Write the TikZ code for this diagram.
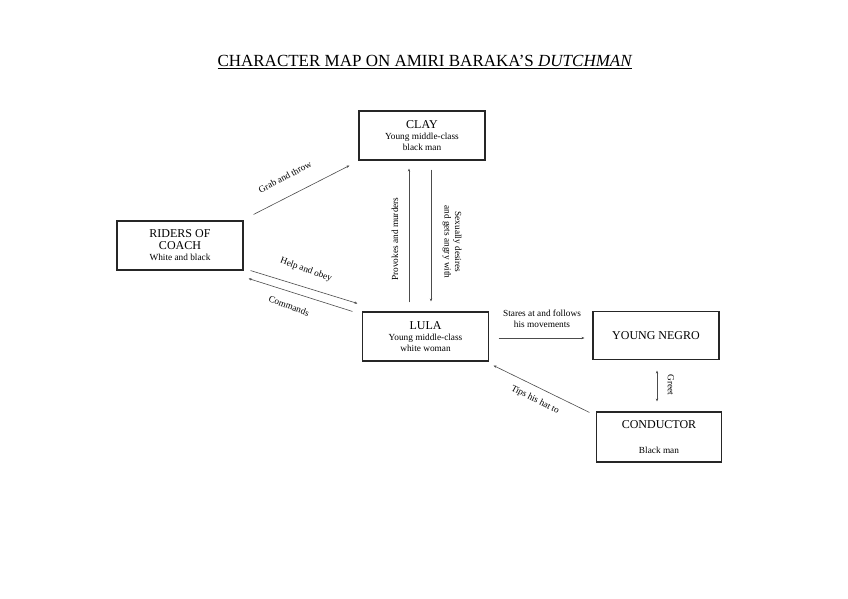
\documentclass[tikz,border=0pt]{standalone}
\usepackage{fontspec}
\setmainfont{Liberation Serif}
\usetikzlibrary{arrows.meta}
\newcommand\subtxt[1]{{\fontsize{9.3}{10}\selectfont #1}}
\begin{document}
\begin{tikzpicture}[x=1pt,y=-1pt,
  box/.style={draw=black!85, line width=1.1pt, rectangle, inner sep=0pt, align=center, font=\fontsize{12}{12.5}\selectfont},
  lab/.style={font=\fontsize{9.3}{10.5}\selectfont, inner sep=0pt, align=center},
  arr/.style={draw=black!70, line width=0.6pt, -{Stealth[length=3pt,width=2.4pt]}},
  darr/.style={draw=black!70, line width=0.6pt, {Stealth[length=3pt,width=2.4pt]}-{Stealth[length=3pt,width=2.4pt]}}
]
\useasboundingbox (0,0) rectangle (848,599);
\fill[white] (0,0) rectangle (848,599);

\node[inner sep=0pt, font=\fontsize{17}{18}\selectfont] (title) at (425,62)
  {\underline{CHARACTER MAP ON AMIRI BARAKA'S \textit{DUTCHMAN}}};

\node[box, minimum width=126pt, minimum height=49pt] (clay) at (422,135.5)
  {CLAY\\[-1pt]\subtxt{Young middle-class}\\[-2pt]\subtxt{black man}};
\node[box, minimum width=126pt, minimum height=49pt] (riders) at (180,245.5)
  {RIDERS OF\\[-1pt]COACH\\[-1pt]\subtxt{White and black}};
\node[box, minimum width=126pt, minimum height=49pt] (lula) at (425.5,336.5)
  {LULA\\[-1pt]\subtxt{Young middle-class}\\[-2pt]\subtxt{white woman}};
\node[box, minimum width=126pt, minimum height=48pt] (negro) at (656,335.5)
  {YOUNG NEGRO};
\node[box, minimum width=125pt, minimum height=50pt] (cond) at (659,437)
  {CONDUCTOR\\[12pt]\subtxt{Black man}};

% connectors
\draw[arr] ([shift={(10,-6)}]riders.north east) -- ([shift={(-9,5)}]clay.south west);
\draw[arr] ([shift={(7,0)}]riders.south east) -- ([shift={(-4.5,-8)}]lula.north west);
\draw[arr] ([shift={(-9.5,0)}]lula.north west) -- ([shift={(5,8)}]riders.south east);
\draw[arr] ([shift={(-16.5,-9)}]lula.north) -- ([shift={(-13,8)}]clay.south);
\draw[arr] ([shift={(9,9)}]clay.south) -- ([shift={(5.5,-10)}]lula.north);
\draw[arr] ([shift={(9.5,1.5)}]lula.east) -- ([shift={(-8,2.5)}]negro.west);
\draw[arr] ([shift={(-6.5,1)}]cond.north west) -- ([shift={(4.5,4)}]lula.south east);
\draw[darr] ([shift={(1,10.5)}]negro.south) -- ([shift={(-2,-10)}]cond.north);

% labels
\node[lab, rotate=28] (l1) at (285,177) {Grab and throw};
\node[lab, rotate=-20] (l2) at (306,270) {Help and obey};
\node[lab, rotate=-20] (l3) at (289,306) {Commands};
\node[lab, rotate=90] (l4) at (395,239) {Provokes and murders};
\node[lab, rotate=-90] (l5) at (452,242) {Sexually desires\\and gets angry with};
\node[lab] (l6) at (542,319) {Stares at and follows\\his movements};
\node[lab, rotate=-27] (l7) at (535,400) {Tips his hat to};
\node[lab, rotate=-90] (l8) at (671,385) {Greet};
\end{tikzpicture}
\end{document}
